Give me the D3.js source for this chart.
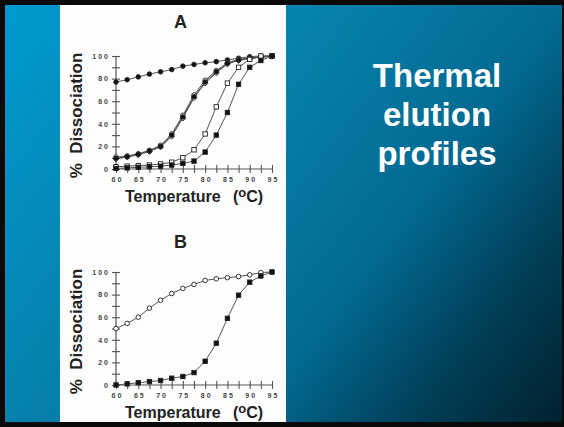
<!DOCTYPE html>
<html><head><meta charset="utf-8">
<script src="https://cdn.jsdelivr.net/npm/d3@7"></script>
<style>html,body{margin:0;padding:0;background:#000;}svg{display:block;}</style>
</head><body>
<script>
// ---- data ----
const temps = [60,62.5,65,67.5,70,72.5,75,77.5,80,82.5,85,87.5,90,92.5,95];
const xTicks = [60,62.5,65,67.5,70,72.5,75,77.5,80,82.5,85,87.5,90,92.5,95];
const xLabels = [60,65,70,75,80,85,90,95];
const yTicks = [0,10,20,30,40,50,60,70,80,90,100];
const yLabels = [0,20,40,60,80,100];
// panel A
const aTop      = [77,79,81.5,84,86,88,91,92.5,94,95,96.5,98,99.4,100,100];
const aMidFill  = [9.5,11,13,16,20,30,46,64,77,86,93.5,96.5,98,99,99.7];
const aMidOpen  = [10.5,11.5,13.5,16.5,21,31,47.5,65.5,78.5,87,94,97,98.5,99.3,99.8];
const aMidDiam  = [9,10.5,12.5,15.5,19.5,29,45,63,76,85,93,96,97.5,99,99.7];
const aOpenSq   = [2,2.5,3,3.5,4.5,6,10,17,31,55,76,90,97,100,100];
const aFillSq   = [0.5,1,1.5,2,2.5,3.5,5,7,15,30,50,75,90,96,100];
// panel B
const bOpen     = [50,54.5,60,68,75,81,85.5,89,92.5,94,95,96,97.5,99.5,100];
const bFillSq   = [0,1,2,3,4,6,7.5,11,21,37,59,79.5,91,96.5,100];
const titleLines = ["Thermal","elution","profiles"];

const W=564,H=427;
const svg=d3.select("body").append("svg").attr("width",W).attr("height",H);
const defs=svg.append("defs");
const g=defs.append("linearGradient").attr("id","bg").attr("gradientUnits","userSpaceOnUse")
  .attr("x1",0).attr("y1",0).attr("x2",W).attr("y2",H);
[[0,"#009bd0"],[0.36,"#0682ad"],[0.64,"#026a92"],[0.82,"#013f58"],[1,"#00202d"]].forEach(s=>
  g.append("stop").attr("offset",s[0]).attr("stop-color",s[1]));

svg.append("rect").attr("width",W).attr("height",H).attr("fill","#0a0a0a");
svg.append("rect").attr("x",5).attr("y",5).attr("width",W-7).attr("height",H-10).attr("fill","url(#bg)");
svg.append("rect").attr("x",60).attr("y",5).attr("width",226).attr("height",H-10).attr("fill","#fdfdfd");

// title
const tt=svg.append("text").attr("fill","#fff").attr("font-family","Liberation Sans, Arial, sans-serif")
  .attr("font-weight","bold").attr("font-size",33).attr("text-anchor","middle");
titleLines.forEach((t,i)=>tt.append("tspan").attr("x",437).attr("y",87+i*39).text(t));

function panel(label, yTop, yBot, labelY, series){
  const x=d3.scaleLinear().domain([60,95]).range([116,272]);
  const y=d3.scaleLinear().domain([0,100]).range([yBot,yTop]);
  const p=svg.append("g");
  const font="Liberation Sans, Arial, sans-serif";
  // axes
  const xa=p.append("g").attr("transform",`translate(0,${yBot})`)
    .call(d3.axisBottom(x).tickValues(xTicks).tickSize(4).tickFormat(d=>xLabels.includes(d)?d:""));
  const ya=p.append("g").attr("transform",`translate(116,0)`)
    .call(d3.axisLeft(y).tickValues(yTicks).tickSize(4).tickFormat(d=>yLabels.includes(d)?d:""));
  [xa,ya].forEach(a=>{
    a.select(".domain").attr("stroke","#555").attr("stroke-width",1.2);
    a.selectAll(".tick line").attr("stroke","#555").attr("stroke-width",1.1);
    a.selectAll("text").attr("font-family",font).attr("font-weight","bold")
      .attr("font-size",7).attr("fill","#444").attr("letter-spacing","2px");
  });
  xa.select(".domain").attr("d",`M${x(60)},0H${x(95)+1}`);
  ya.select(".domain").attr("d",`M0,${y(0)}V${y(100)}`);
  xa.selectAll(".tick line").attr("y1",-4).attr("y2",4);
  ya.selectAll(".tick line").attr("x1",-4).attr("x2",4);
  xa.selectAll("text").attr("y",8).attr("dx","1px");
  ya.selectAll("text").attr("x",-6);
  // labels
  p.append("text").attr("x",180.5).attr("y",labelY).attr("text-anchor","middle")
    .attr("font-family",font).attr("font-weight","bold").attr("font-size",18).attr("fill","#222").text(label);
  const xt=p.append("text").attr("y",yBot+33)
    .attr("font-family",font).attr("font-weight","bold").attr("font-size",16).attr("fill","#222");
  xt.append("tspan").attr("x",125).text("Temperature");
  xt.append("tspan").attr("x",233).text("(");
  xt.append("tspan").attr("dy",-5).attr("font-size",13).text("o");
  xt.append("tspan").attr("dy",5).text("C)");
  p.append("text").attr("transform",`translate(82,${(yTop+yBot)/2+3}) rotate(-90)`).attr("text-anchor","middle")
    .attr("font-family",font).attr("font-weight","bold").attr("font-size",17).attr("fill","#222")
    .style("white-space","pre").text("%  Dissociation");
  const line=d3.line().x((d,i)=>x(temps[i])).y(d=>y(d));
  series.forEach(s=>{
    p.append("path").attr("d",line(s.v)).attr("fill","none").attr("stroke","#555").attr("stroke-width",1);
  });
  series.forEach(s=>{
    const gg=p.append("g");
    s.v.forEach((d,i)=>{
      const cx=x(temps[i]),cy=y(d);
      const fill=s.filled?"#111":"#fff";
      if(s.shape==="circle") gg.append("circle").attr("cx",cx).attr("cy",cy).attr("r",2.3)
        .attr("fill",fill).attr("stroke","#222").attr("stroke-width",0.9);
      else if(s.shape==="square") gg.append("rect").attr("x",cx-2.2).attr("y",cy-2.2).attr("width",4.4).attr("height",4.4)
        .attr("fill",fill).attr("stroke","#222").attr("stroke-width",0.9);
      else gg.append("path").attr("d",`M${cx},${cy-2.9}L${cx+2.9},${cy}L${cx},${cy+2.9}L${cx-2.9},${cy}Z`)
        .attr("fill",fill).attr("stroke","#222").attr("stroke-width",0.9);
    });
  });
}

panel("A",56,169,28,[
  {v:aTop,shape:"circle",filled:true},
  {v:aMidDiam,shape:"diamond",filled:false},
  {v:aMidOpen,shape:"circle",filled:false},
  {v:aMidFill,shape:"circle",filled:true},
  {v:aOpenSq,shape:"square",filled:false},
  {v:aFillSq,shape:"square",filled:true}
]);
panel("B",272,385,248,[
  {v:bOpen,shape:"circle",filled:false},
  {v:bFillSq,shape:"square",filled:true}
]);
</script>
</body></html>
